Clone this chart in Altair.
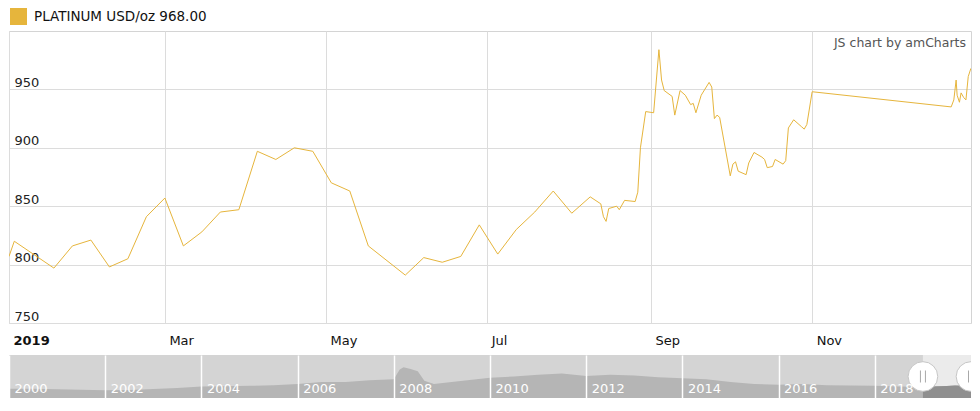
import altair as alt
import pandas as pd

# ---------------- data ----------------
series_name = "PLATINUM USD/oz 968.00"
watermark = "JS chart by amCharts"

dates = [
    "2019-01-01", "2019-01-03", "2019-01-18", "2019-01-25", "2019-02-01",
    "2019-02-08", "2019-02-15", "2019-02-22", "2019-03-01", "2019-03-08",
    "2019-03-15", "2019-03-22", "2019-03-29", "2019-04-05", "2019-04-12",
    "2019-04-19", "2019-04-26", "2019-05-03", "2019-05-10", "2019-05-17",
    "2019-05-31", "2019-06-07", "2019-06-14", "2019-06-21", "2019-06-28",
    "2019-07-05", "2019-07-12", "2019-07-19", "2019-07-26", "2019-08-02",
    "2019-08-09", "2019-08-13", "2019-08-14", "2019-08-15", "2019-08-16",
    "2019-08-19", "2019-08-20", "2019-08-22", "2019-08-26", "2019-08-27",
    "2019-08-28", "2019-08-30", "2019-09-02", "2019-09-04", "2019-09-05",
    "2019-09-06", "2019-09-09", "2019-09-10", "2019-09-12", "2019-09-14",
    "2019-09-16", "2019-09-17", "2019-09-18", "2019-09-20", "2019-09-23",
    "2019-09-24", "2019-09-25", "2019-09-26", "2019-09-27", "2019-10-01",
    "2019-10-02", "2019-10-03", "2019-10-04", "2019-10-07", "2019-10-08",
    "2019-10-10", "2019-10-13", "2019-10-14", "2019-10-15", "2019-10-17",
    "2019-10-18", "2019-10-21", "2019-10-22", "2019-10-23", "2019-10-25",
    "2019-10-28", "2019-10-29", "2019-10-30", "2019-11-01",
    "2019-12-23T15:00", "2019-12-24T15:00", "2019-12-25T12:00", "2019-12-25T21:00",
    "2019-12-26T18:00", "2019-12-27T09:00", "2019-12-28T09:00", "2019-12-29T05:00",
    "2019-12-30T02:00", "2019-12-31T02:00",
]
prices = [
    807, 820, 797, 816, 821,
    798, 805, 841, 857, 816,
    828, 845, 847, 897, 890,
    900, 897, 870, 863, 816,
    791, 806, 802, 807, 834,
    809, 830, 845, 863, 844,
    858, 852, 841, 837, 848,
    850, 847, 855, 854, 862,
    900, 931, 930, 984, 958,
    949, 944, 928, 949, 945,
    937, 938, 930, 945, 956,
    952, 925, 928, 926, 876,
    886, 888, 880, 877, 887,
    896, 892, 890, 883, 884,
    890, 886, 889, 917, 924,
    918, 916, 920, 948,
    935, 941, 958, 945,
    939, 947, 943, 941,
    961, 968,
]

y_domain = [750, 1000]
y_ticks = [750, 800, 850, 900, 950]
tick_months = [1, 3, 5, 7, 9, 11]

nav_dates = [
    "2000-01-01", "2000-07-01", "2001-01-01", "2001-07-01", "2002-01-01",
    "2002-07-01", "2003-01-01", "2003-07-01", "2004-01-01", "2004-07-01",
    "2005-01-01", "2005-07-01", "2006-01-01", "2006-07-01", "2007-01-01",
    "2007-07-01", "2008-01-01", "2008-02-15", "2008-03-15", "2008-05-08",
    "2008-07-01", "2008-08-20", "2008-11-01", "2009-04-01", "2010-01-01",
    "2010-07-01", "2011-01-01", "2011-07-01", "2012-01-01", "2012-07-01",
    "2013-01-01", "2013-07-01", "2014-01-01", "2014-07-01", "2015-01-01",
    "2015-07-01", "2016-01-01", "2016-07-01", "2017-01-01", "2017-07-01",
    "2018-01-01", "2018-07-01", "2019-01-01", "2019-07-01", "2019-09-01",
    "2020-01-01",
]
nav_prices = [
    700, 690, 660, 620, 580,
    600, 680, 750, 860, 880,
    920, 960, 1050, 1200, 1210,
    1330, 1420, 2140, 2325, 2180,
    2015, 1295, 1060, 1225, 1535,
    1620, 1760, 1850, 1660, 1760,
    1700, 1560, 1480, 1420, 1200,
    1060, 990, 1060, 960, 950,
    920, 860, 850, 900, 940,
    900,
]
nav_domain_years = [2000, 2020]
nav_tick_years = list(range(2000, 2019, 2))
nav_price_domain = [0, 3240]
selection = ["2019-01-01", "2020-01-01"]

# ---------------- style ----------------
GOLD = "#e6b53c"
GRID = "#dcdcdc"
FONT = "DejaVu Sans"
W = 962
H = 292
NAV_H = 43

df = pd.DataFrame({
    "date": pd.to_datetime(dates, format="ISO8601"),
    "price": prices,
    "series": [series_name] * len(prices),
})

x_main = alt.X(
    "date:T",
    title=None,
    scale=alt.Scale(domain=[alt.DateTime(year=2019, month=1, date=1),
                            alt.DateTime(year=2019, month=12, date=31, hours=3)]),
    axis=alt.Axis(
        values=[alt.DateTime(year=2019, month=m, date=1) for m in tick_months],
        labelExpr="month(datum.value) == 0 ? timeFormat(datum.value, '%Y') : timeFormat(datum.value, '%b')",
        labelFontWeight={"condition": {"test": "month(datum.value) == 0", "value": "bold"}, "value": "normal"},
        labelAlign="left", labelOffset=4, labelBaseline="alphabetic", labelPadding=21,
        labelFontSize=13, labelColor="#111", labelFont=FONT,
        ticks=False, tickSize=0, domain=False,
        grid=True, gridColor=GRID, gridWidth=1,
    ),
)

y_main = alt.Y(
    "price:Q",
    title=None,
    scale=alt.Scale(domain=y_domain, nice=False, zero=False),
    axis=alt.Axis(
        values=y_ticks, labelAlign="left", labelPadding=-5, labelBaseline="bottom",
        labelFontSize=13, labelColor="#222", labelFont=FONT,
        ticks=False, tickSize=0, domain=False,
        grid=True, gridColor=GRID, gridWidth=1,
    ),
)

line = alt.Chart(df).mark_line(strokeWidth=1, clip=True).encode(
    x=x_main,
    y=y_main,
    color=alt.Color(
        "series:N",
        scale=alt.Scale(range=[GOLD]),
        legend=alt.Legend(
            title=None, orient="none", legendX=1, legendY=-23,
            symbolType="square", symbolSize=289, symbolFillColor=GOLD,
            symbolStrokeColor=GOLD, symbolStrokeWidth=0, symbolOpacity=1,
            labelFontSize=13.5, labelColor="#111", labelFont=FONT,
            labelLimit=500, labelOffset=7, padding=0,
        ),
    ),
)

wm = alt.Chart(pd.DataFrame({"t": [watermark]})).mark_text(
    align="right", baseline="middle", fontSize=12.5, color="#555", font=FONT
).encode(text="t:N", x=alt.value(W - 5), y=alt.value(12))

main = alt.layer(line, wm).properties(
    width=W, height=H, view=alt.ViewBackground(stroke="#d4d4d4", fill="white")
)

# ---------------- navigator ----------------
nav_df = pd.DataFrame({"date": pd.to_datetime(nav_dates), "price": nav_prices})
nav_scale = alt.Scale(domain=[alt.DateTime(year=nav_domain_years[0], month=1, date=1),
                              alt.DateTime(year=nav_domain_years[1], month=1, date=1)])
nav_y = alt.Y("price:Q", scale=alt.Scale(domain=nav_price_domain, nice=False), axis=None)
nav_axis = alt.Axis(
    values=[alt.DateTime(year=yv, month=1, date=1) for yv in nav_tick_years],
    format="%Y", labelColor="white", labelAlign="left", labelOffset=5,
    labelPadding=-6, labelBaseline="alphabetic", labelFontSize=13, labelFont=FONT,
    ticks=False, tickSize=0, domain=False,
    grid=True, gridColor="white", gridWidth=1.5, zindex=1,
)

sel_df = pd.DataFrame({"start": [pd.Timestamp(selection[0])], "end": [pd.Timestamp(selection[1])]})
sel_rect = alt.Chart(sel_df).mark_rect(color="#ebebeb").encode(
    x=alt.X("start:T", title=None, scale=nav_scale, axis=nav_axis), x2="end:T"
)

nav_area = alt.Chart(nav_df).mark_area(color="#b5b5b5", clip=True).encode(
    x=alt.X("date:T", title=None, scale=nav_scale, axis=nav_axis), y=nav_y
)

nav_dark = alt.Chart(nav_df).transform_filter(
    f"year(datum.date) >= {int(selection[0][:4])}"
).mark_area(color="#8f8f8f", clip=True).encode(
    x=alt.X("date:T", title=None, scale=nav_scale, axis=nav_axis), y=nav_y
)

handle_df = pd.DataFrame({"date": pd.to_datetime(selection)})
hx = alt.X("date:T", title=None, scale=nav_scale, axis=nav_axis)
handles = alt.Chart(handle_df).mark_point(
    shape="circle", filled=True, color="white", stroke="#c6c6c6", strokeWidth=1,
    size=880, opacity=1, clip=True
).encode(x=hx, y=alt.value(NAV_H / 2))
grip_l = alt.Chart(handle_df).mark_rule(color="#a8a8a8", strokeWidth=1, xOffset=-2.5, clip=True).encode(
    x=hx, y=alt.value(NAV_H / 2 - 6), y2=alt.value(NAV_H / 2 + 6)
)
grip_r = alt.Chart(handle_df).mark_rule(color="#a8a8a8", strokeWidth=1, xOffset=2.5, clip=True).encode(
    x=hx, y=alt.value(NAV_H / 2 - 6), y2=alt.value(NAV_H / 2 + 6)
)

nav = alt.layer(sel_rect, nav_area, nav_dark, handles, grip_l, grip_r).properties(
    width=W, height=NAV_H, view=alt.ViewBackground(fill="#d4d4d4", strokeWidth=0)
)

chart = alt.vconcat(main, nav, spacing=32, bounds="flush").properties(
    padding=0, background="white"
).configure(font=FONT)

chart.save("out.html", embed_options={"renderer": "svg", "actions": False})
